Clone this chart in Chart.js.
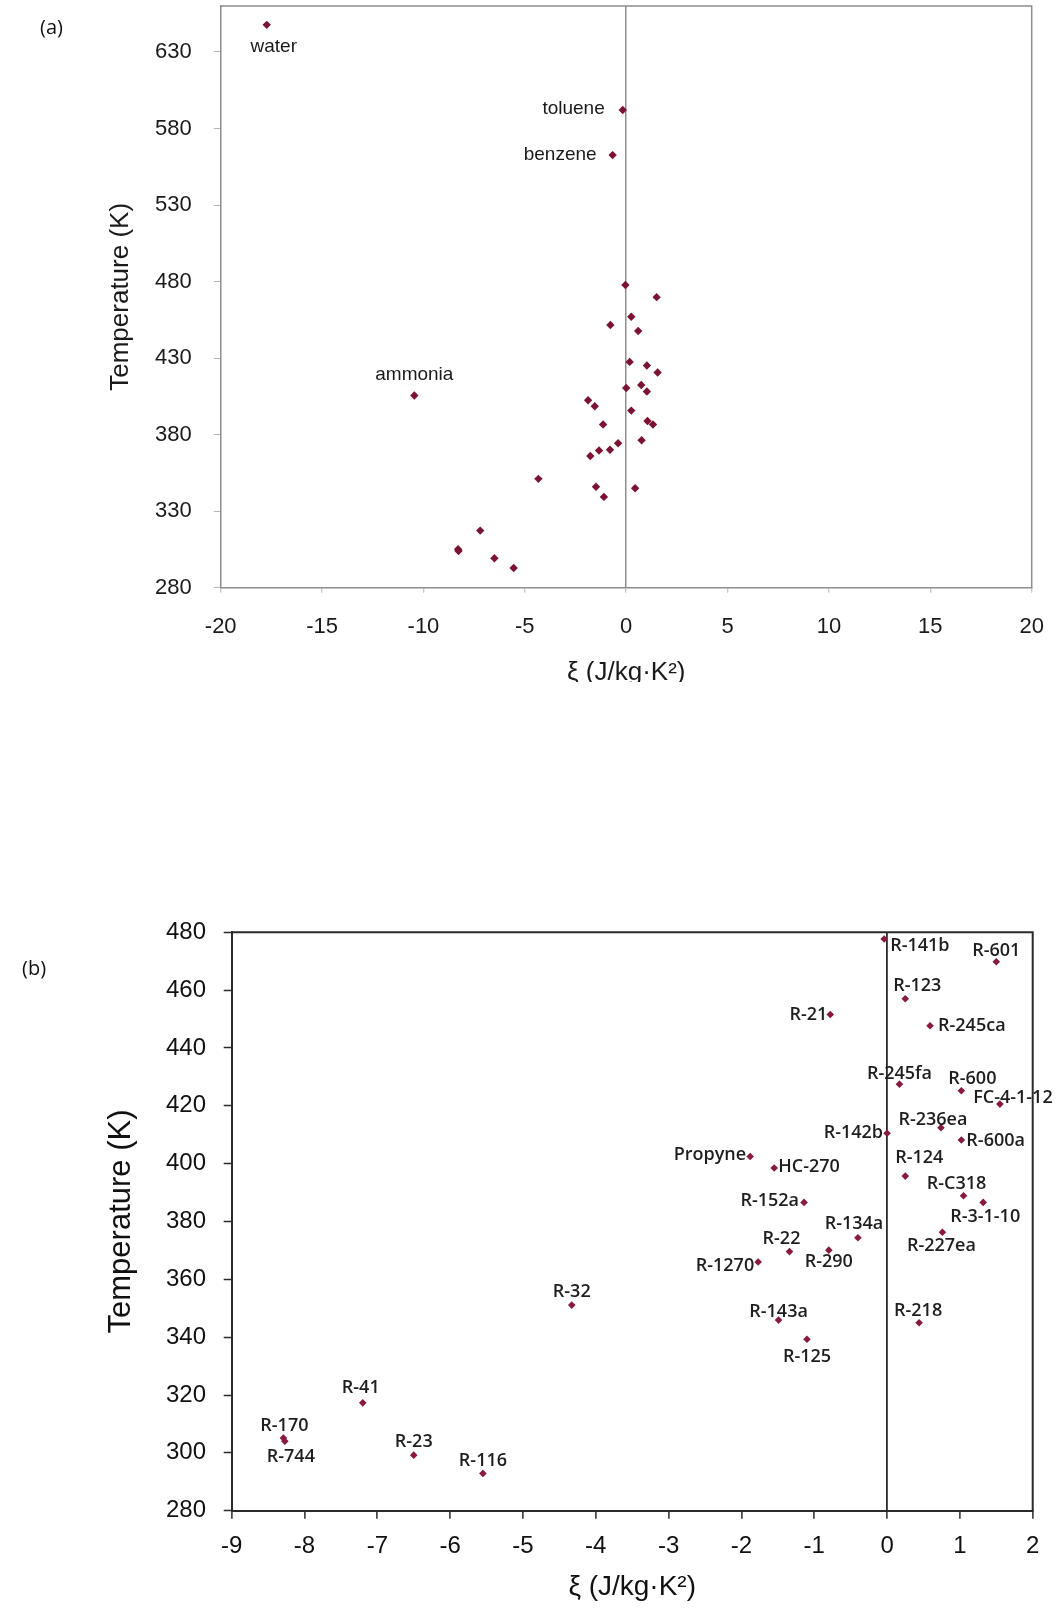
<!DOCTYPE html>
<html>
<head>
<meta charset="utf-8">
<script src="https://cdn.jsdelivr.net/npm/chart.js@4.4.1/dist/chart.umd.min.js"></script>
<style>
  html, body { margin: 0; padding: 0; background: #fff; }
  body { width: 1059px; height: 1608px; position: relative; overflow: hidden; }
  .panel { position: absolute; left: 0; width: 1059px; overflow: hidden; }
  .panel canvas { display: block; }
  #wrapA { top: 0; height: 682px; }
  #wrapB { top: 880px; height: 728px; }
  .tag { position: absolute; font-family: "Open Sans", sans-serif; font-size: 20px; color: #111; }
</style>
</head>
<body>
<div class="panel" id="wrapA"><canvas id="chartA" width="1059" height="700" style="width:1059px;height:700px"></canvas></div>
<div class="panel" id="wrapB"><canvas id="chartB" width="1059" height="728" style="width:1059px;height:728px"></canvas></div>
<div class="tag" style="left:40px;top:13px">(a)</div>
<div class="tag" style="left:22px;top:954px">(b)</div>

<script>
// ==================== Data ====================
// refrigerants: xi (J/kg.K^2) vs critical temperature (K)
const refNames = ['R-141b', 'R-601', 'R-123', 'R-21', 'R-245ca', 'R-245fa', 'R-600', 'FC-4-1-12',
  'R-236ea', 'R-142b', 'R-600a', 'Propyne', 'HC-270', 'R-124', 'R-C318', 'R-3-1-10', 'R-152a',
  'R-134a', 'R-22', 'R-290', 'R-227ea', 'R-1270', 'R-143a', 'R-125', 'R-218', 'R-32', 'R-41',
  'R-170', 'R-744', 'R-23', 'R-116'];
const refXi = [-0.04, 1.50, 0.25, -0.78, 0.59, 0.17, 1.02, 1.55,
  0.74, 0.0, 1.02, -1.88, -1.55, 0.25, 1.05, 1.32, -1.14,
  -0.40, -1.34, -0.80, 0.76, -1.77, -1.49, -1.10, 0.44, -4.33, -7.20,
  -8.29, -8.27, -6.50, -5.55];
const refTc = [477.7, 469.8, 457.0, 451.6, 447.7, 427.5, 425.2, 420.6,
  412.4, 410.5, 408.2, 402.5, 398.5, 395.7, 388.9, 386.6, 386.6,
  374.4, 369.6, 370.1, 376.3, 366.0, 345.9, 339.3, 345.0, 351.1, 317.3,
  305.1, 304.0, 299.2, 292.9];

// extra fluids shown only in panel (a)
const fluidNames = ['water', 'toluene', 'benzene', 'ammonia'];
const fluidXi = [-17.73, -0.17, -0.67, -10.45];
const fluidTc = [647.7, 592.1, 562.6, 405.6];

// tick labels
const yTicksA = [280, 330, 380, 430, 480, 530, 580, 630];
const xTicksA = [-20, -15, -10, -5, 0, 5, 10, 15, 20];
const yTicksB = [280, 300, 320, 340, 360, 380, 400, 420, 440, 460, 480];
const xTicksB = [-9, -8, -7, -6, -5, -4, -3, -2, -1, 0, 1, 2];

const xTitle = 'ξ (J/kg·K²)';
const yTitle = 'Temperature (K)';

// ==================== Label placement (px offsets from marker) ====================
const labelLayoutA = {
  'water': [7, 22, 'center'],
  'toluene': [-18, -1, 'right'],
  'benzene': [-16, 0, 'right'],
  'ammonia': [0, -21, 'center']
};
const labelLayoutB = {
  'R-141b': [6, 7, 'left'], 'R-601': [0, -11, 'center'], 'R-123': [12, -13, 'center'],
  'R-21': [-3, 0, 'right'], 'R-245ca': [8, 0, 'left'], 'R-245fa': [0, -10, 'center'],
  'R-600': [11, -12, 'center'], 'FC-4-1-12': [13, -6, 'center'], 'R-236ea': [-8, -8, 'center'],
  'R-142b': [-4, 0, 'right'], 'R-600a': [5, 1, 'left'], 'Propyne': [-4, -2, 'right'],
  'HC-270': [4, -1, 'left'], 'R-124': [14, -18, 'center'], 'R-C318': [-7, -12, 'center'],
  'R-3-1-10': [2, 14, 'center'], 'R-152a': [-5, -2, 'right'], 'R-134a': [-4, -14, 'center'],
  'R-22': [-8, -13, 'center'], 'R-290': [0, 12, 'center'], 'R-227ea': [-1, 14, 'center'],
  'R-1270': [-4, 4, 'right'], 'R-143a': [0, -8, 'center'], 'R-125': [0, 18, 'center'],
  'R-218': [-1, -12, 'center'], 'R-32': [0, -13, 'center'], 'R-41': [-2, -15, 'center'],
  'R-170': [1, -12, 'center'], 'R-744': [6, 16, 'center'], 'R-23': [0, -13, 'center'],
  'R-116': [0, -13, 'center']
};

// ==================== Plugins ====================
const pointLabels = {
  id: 'pointLabels',
  afterDatasetsDraw(chart, args, opts) {
    const ctx = chart.ctx;
    const meta = chart.getDatasetMeta(0);
    ctx.save();
    ctx.font = opts.font;
    ctx.fillStyle = opts.color;
    ctx.textBaseline = 'middle';
    opts.names.forEach((name, i) => {
      const lay = opts.layout[name];
      if (!lay) return;
      const el = meta.data[i];
      ctx.textAlign = lay[2];
      ctx.fillText(name, el.x + lay[0], el.y + lay[1]);
    });
    ctx.restore();
  }
};

const frame = {
  id: 'frame',
  beforeDatasetsDraw(chart, args, opts) {
    const { ctx, chartArea: a } = chart;
    ctx.save();
    ctx.strokeStyle = opts.color;
    ctx.lineWidth = opts.width;
    ctx.beginPath();
    ctx.moveTo(a.left, a.top);
    ctx.lineTo(a.right, a.top);
    ctx.lineTo(a.right, a.bottom);
    ctx.stroke();
    ctx.restore();
  }
};

function setTicks(values) {
  return (scale) => { scale.ticks = values.map(v => ({ value: v })); };
}
// fixed axis box sizes, no extra label padding so the plot area stays put
function fixWidth(w) {
  return (s) => { s.width = w; s.paddingTop = 0; s.paddingBottom = 0; };
}
function fixHeight(h) {
  return (s) => { s.height = h; s.paddingLeft = 0; s.paddingRight = 0; };
}

// ==================== Panel (a) ====================
const grayA = '#8e8e8e';
const fontA = '"Liberation Sans", Arial, sans-serif';
const ptsA = refXi.map((x, i) => ({ x: x, y: refTc[i] }))
  .concat(fluidXi.map((x, i) => ({ x: x, y: fluidTc[i] })));

new Chart(document.getElementById('chartA'), {
  type: 'scatter',
  data: {
    datasets: [{
      data: ptsA,
      pointStyle: 'rectRot',
      pointRadius: 4.2,
      pointBackgroundColor: '#7c1332',
      pointBorderColor: '#7c1332',
      pointBorderWidth: 0,
      clip: false
    }]
  },
  options: {
    responsive: false,
    animation: false,
    layout: { autoPadding: false, padding: { left: 0, right: 27.3, top: 6, bottom: 0 } },
    plugins: {
      legend: { display: false },
      tooltip: { enabled: false },
      pointLabels: { names: refNames.concat(fluidNames), layout: labelLayoutA,
        font: '19px ' + fontA, color: '#1a1a1a' },
      frame: { color: grayA, width: 1.5 }
    },
    scales: {
      x: {
        type: 'linear', min: -20, max: 20,
        afterBuildTicks: setTicks(xTicksA),
        afterFit: fixHeight(112.3),
        border: { color: grayA, width: 1.5 },
        grid: {
          color: (c) => (c.tick && c.tick.value === 0) ? grayA : 'rgba(0,0,0,0)',
          lineWidth: 1.5, tickColor: '#b4b4b4', tickLength: 5, tickWidth: 1
        },
        ticks: { color: '#1a1a1a', padding: 21, maxRotation: 0, autoSkip: false,
          font: { family: fontA, size: 22 } },
        title: { display: true, text: xTitle, color: '#1a1a1a',
          font: { family: fontA, size: 26 },
          padding: { top: 0, bottom: 11.4 } }
      },
      y: {
        type: 'linear', min: 280, max: 660,
        afterBuildTicks: setTicks(yTicksA),
        afterFit: fixWidth(220.7),
        border: { color: grayA, width: 1.5 },
        grid: { drawOnChartArea: false, tickColor: '#b4b4b4', tickLength: 7, tickWidth: 1 },
        ticks: { color: '#1a1a1a', padding: 22, autoSkip: false,
          font: { family: fontA, size: 22 } },
        title: { display: true, text: yTitle, color: '#1a1a1a',
          font: { family: fontA, size: 26 },
          padding: { top: 105.4, bottom: 0 } }
      }
    }
  },
  plugins: [pointLabels, frame]
});

// ==================== Panel (b) ====================
const darkB = '#2a2a2a';
const ptsB = refXi.map((x, i) => ({ x: x, y: refTc[i] }));

new Chart(document.getElementById('chartB'), {
  type: 'scatter',
  data: {
    datasets: [{
      data: ptsB,
      pointStyle: 'rectRot',
      pointRadius: 3.8,
      pointBackgroundColor: '#8a1a3c',
      pointBorderColor: '#8a1a3c',
      pointBorderWidth: 0,
      clip: false
    }]
  },
  options: {
    responsive: false,
    animation: false,
    layout: { autoPadding: false, padding: { left: 0, right: 26.3, top: 52.3, bottom: 0 } },
    plugins: {
      legend: { display: false },
      tooltip: { enabled: false },
      pointLabels: { names: refNames, layout: labelLayoutB,
        font: '600 18px "Open Sans", "Noto Sans", sans-serif', color: '#1e1e1e' },
      frame: { color: darkB, width: 2 }
    },
    scales: {
      x: {
        type: 'linear', min: -9, max: 2,
        afterBuildTicks: setTicks(xTicksB),
        afterFit: fixHeight(97.3),
        border: { color: darkB, width: 2 },
        grid: {
          color: (c) => (c.tick && c.tick.value === 0) ? darkB : 'rgba(0,0,0,0)',
          lineWidth: 1.8, tickColor: darkB, tickLength: 8, tickWidth: 1.5
        },
        ticks: { color: '#111', padding: 13.5, maxRotation: 0, autoSkip: false,
          font: { family: fontA, size: 24 } },
        title: { display: true, text: xTitle, color: '#111',
          font: { family: fontA, size: 28 },
          padding: { top: 0, bottom: 4.2 } }
      },
      y: {
        type: 'linear', min: 280, max: 480,
        afterBuildTicks: setTicks(yTicksB),
        afterFit: fixWidth(231.7),
        border: { color: darkB, width: 2 },
        grid: { drawOnChartArea: false, tickColor: darkB, tickLength: 8, tickWidth: 1.5 },
        ticks: { color: '#111', padding: 17.7, autoSkip: false,
          font: { family: fontA, size: 24 } },
        title: { display: true, text: yTitle, color: '#111',
          font: { family: fontA, size: 31 },
          padding: { top: 103.1, bottom: 0 } }
      }
    }
  },
  plugins: [pointLabels, frame]
});
</script>
</body>
</html>
